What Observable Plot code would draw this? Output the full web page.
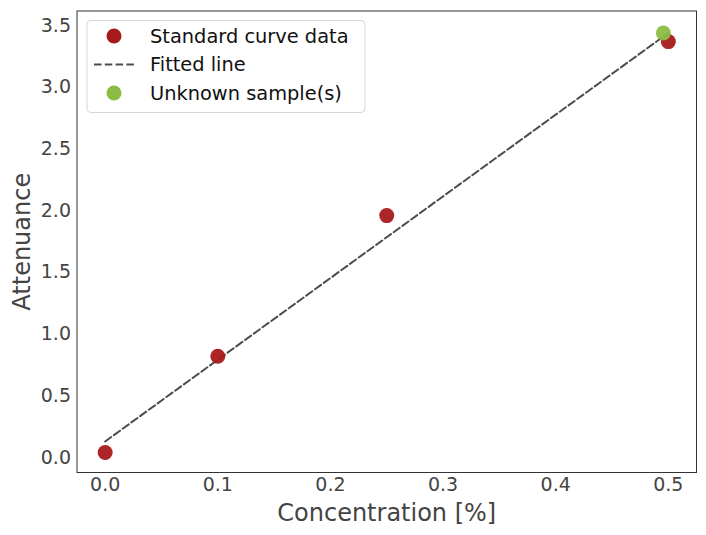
<!DOCTYPE html>
<html>
<head>
<meta charset="utf-8">
<script src="https://cdn.jsdelivr.net/npm/d3@7"></script>
<script src="https://cdn.jsdelivr.net/npm/@observablehq/plot@0.6"></script>
<style>
  html, body { margin: 0; padding: 0; background: #fff; }
  #chart { width: 706px; height: 535px; }
</style>
</head>
<body>
<div id="chart"></div>
<script>
// Standard curve data
const conc = [0, 0.1, 0.25, 0.5];
const atten = [0.04, 0.82, 1.96, 3.37];
// Fitted line (end points)
const fitConc = [0, 0.5];
const fitAtten = [0.13, 3.44];
// Unknown sample(s)
const unkConc = [0.4956];
const unkAtten = [3.44];
// Ticks
const xTicks = [0, 0.1, 0.2, 0.3, 0.4, 0.5];
const yTicks = [0, 0.5, 1.0, 1.5, 2.0, 2.5, 3.0, 3.5];
const legendLabels = ["Standard curve data", "Fitted line", "Unknown sample(s)"];

const RED = "#a8191b";
const GREEN = "#8bbd45";
const LINE = "#4d4d4d";
const TEXT = "#444444";
const DASH = "7.5,3.3";

const std = conc.map((c, i) => ({x: c, y: atten[i]}));
const fit = fitConc.map((c, i) => ({x: c, y: fitAtten[i]}));
const unk = unkConc.map((c, i) => ({x: c, y: unkAtten[i]}));

const plot = Plot.plot({
  width: 706,
  height: 535,
  marginTop: 10.5,
  marginRight: 10,
  marginBottom: 63,
  marginLeft: 76.5,
  style: {fontFamily: "DejaVu Sans", background: "#fff", color: TEXT},
  x: {domain: [-0.025, 0.525]},
  y: {domain: [-0.1216, 3.618]},
  marks: [
    Plot.line(fit, {x: "x", y: "y", stroke: LINE, strokeWidth: 2, strokeDasharray: DASH}),
    Plot.dot(std, {x: "x", y: "y", r: 7.5, fill: RED, fillOpacity: 0.95, stroke: "none"}),
    Plot.dot(unk, {x: "x", y: "y", r: 7.5, fill: GREEN, fillOpacity: 0.95, stroke: "none"}),
    Plot.frame({stroke: "#333", strokeWidth: 1}),
    Plot.axisX(xTicks, {tickSize: 0, tickPadding: 5, fontSize: 19, fill: TEXT, tickFormat: d => d.toFixed(1), label: null}),
    Plot.axisY(yTicks, {tickSize: 0, tickPadding: 6, fontSize: 19, fill: TEXT, tickFormat: d => d.toFixed(1), label: null}),
    Plot.text(["Concentration [%]"], {frameAnchor: "bottom", dy: 48, fontSize: 24, fill: TEXT}),
    Plot.text(["Attenuance"], {frameAnchor: "left", textAnchor: "middle", dx: -55, rotate: -90, fontSize: 24, fill: TEXT})
  ]
});

// Legend drawn into the same SVG
const svg = d3.select(plot);
const lg = svg.append("g").style("font-family", "DejaVu Sans").style("font-size", "19.4px");
lg.append("rect").attr("x", 87).attr("y", 20.5).attr("width", 278).attr("height", 92)
  .attr("rx", 4).attr("fill", "#fff").attr("fill-opacity", 0.85).attr("stroke", "#d6d6d6");
const rowY = [36, 64.5, 93];
lg.append("circle").attr("cx", 114).attr("cy", rowY[0]).attr("r", 7.5).attr("fill", RED);
lg.append("line").attr("x1", 94).attr("x2", 134).attr("y1", rowY[1]).attr("y2", rowY[1])
  .attr("stroke", LINE).attr("stroke-width", 2).attr("stroke-dasharray", DASH);
lg.append("circle").attr("cx", 114).attr("cy", rowY[2]).attr("r", 7.5).attr("fill", GREEN);
legendLabels.forEach((t, i) => {
  lg.append("text").attr("x", 150).attr("y", rowY[i]).attr("dy", "0.36em")
    .style("text-anchor", "start").attr("fill", "#111").text(t);
});

document.getElementById("chart").appendChild(plot);
</script>
</body>
</html>
